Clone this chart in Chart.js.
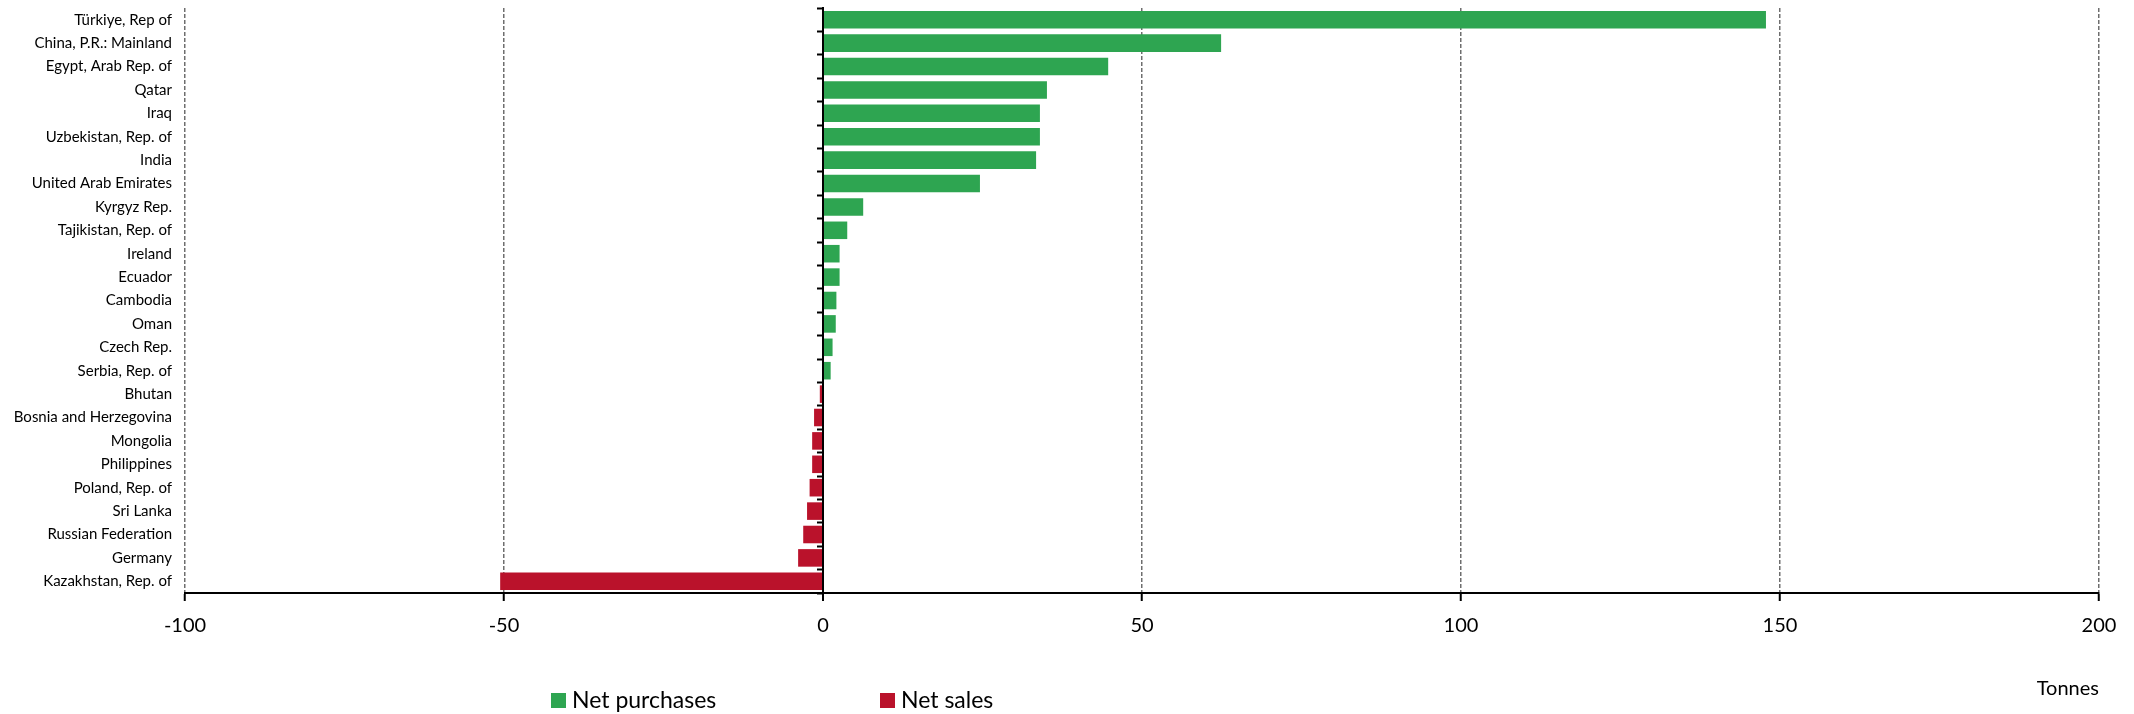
<!DOCTYPE html>
<html>
<head>
<meta charset="utf-8">
<script src="https://cdn.jsdelivr.net/npm/chart.js@4.4.0/dist/chart.umd.min.js"></script>
<style>
body { margin: 0; background: #fff; }
#box { width: 2134px; height: 714px; }
</style>
</head>
<body>
<div id="box"><canvas id="graficoOuro"></canvas></div>
<script>
var paises = ["Türkiye, Rep of", "China, P.R.: Mainland", "Egypt, Arab Rep. of", "Qatar", "Iraq",
    "Uzbekistan, Rep. of", "India", "United Arab Emirates", "Kyrgyz Rep.", "Tajikistan, Rep. of",
    "Ireland", "Ecuador", "Cambodia", "Oman", "Czech Rep.", "Serbia, Rep. of", "Bhutan",
    "Bosnia and Herzegovina", "Mongolia", "Philippines", "Poland, Rep. of", "Sri Lanka",
    "Russian Federation", "Germany", "Kazakhstan, Rep. of"];
var compras = [147.8, 62.4, 44.7, 35.1, 34.0, 34.0, 33.4, 24.6, 6.3, 3.8, 2.6, 2.6, 2.1, 2.0, 1.5, 1.2,
    null, null, null, null, null, null, null, null, null];
var vendas = [null, null, null, null, null, null, null, null, null, null, null, null, null, null, null, null,
    -0.5, -1.4, -1.7, -1.7, -2.1, -2.5, -3.1, -3.9, -50.6];
var ticksX = [-100, -50, 0, 50, 100, 150, 200];
var cores = ["#2ea551", "#ba122b"];

document.addEventListener("DOMContentLoaded", function() {
    Chart.defaults.font.family = "Lato";
    Chart.defaults.color = "#000";

    // legend drawn by hand so the two items sit where the original has them
    var legenda = {
        id: "legenda",
        afterDraw: function(chart) {
            var ctx = chart.ctx;
            var xs = [551, 880];
            ctx.save();
            ctx.font = "23px Lato";
            ctx.textBaseline = "middle";
            chart.data.datasets.forEach(function(ds, i) {
                ctx.fillStyle = ds.backgroundColor;
                ctx.fillRect(xs[i], 693, 15, 15);
                ctx.fillStyle = "#000";
                ctx.fillText(ds.label, xs[i] + 21, 701);
            });
            ctx.restore();
        }
    };

    var ctx = document.getElementById("graficoOuro").getContext("2d");
    var grafico = new Chart(ctx, {
        type: "bar",
        data: {
            labels: paises,
            datasets: [{
                label: "Net purchases",
                data: compras,
                backgroundColor: cores[0],
                barPercentage: 0.75,
                categoryPercentage: 1
            }, {
                label: "Net sales",
                data: vendas,
                backgroundColor: cores[1],
                barPercentage: 0.75,
                categoryPercentage: 1
            }]
        },
        options: {
            indexAxis: "y",
            responsive: true,
            maintainAspectRatio: false,
            animation: false,
            devicePixelRatio: 1,
            layout: { padding: { top: 8, right: 35, bottom: 13, left: 0 } },
            plugins: {
                legend: { display: false },
                tooltip: { enabled: false }
            },
            scales: {
                x: {
                    stacked: true,
                    min: ticksX[0],
                    max: ticksX[ticksX.length - 1],
                    ticks: { stepSize: ticksX[1] - ticksX[0], font: { size: 20 }, padding: 13 },
                    grid: {
                        color: function(c) { return c.tick && c.tick.value === 0 ? "#000" : "#6e6e6e"; },
                        lineWidth: function(c) { return c.tick && c.tick.value === 0 ? 2 : 1.5; },
                        tickColor: "#000",
                        tickLength: 8,
                        tickWidth: 2
                    },
                    border: {
                        color: "#000",
                        width: 2,
                        dash: function(c) { return c.tick && c.tick.value !== 0 ? [4, 2] : []; }
                    },
                    title: {
                        display: true,
                        text: "Tonnes",
                        align: "end",
                        font: { size: 20 },
                        padding: { top: 26, bottom: 0 }
                    }
                },
                y: {
                    stacked: true,
                    afterFit: function(s) {
                        s.width = 185;
                        s.paddingTop = 0;
                        s.paddingBottom = 0;
                    },
                    ticks: { font: { size: 15 }, padding: 13 },
                    grid: { display: false, drawTicks: false },
                    border: { display: false }
                },
                y2: {
                    axis: "y",
                    type: "category",
                    position: { x: 0 },
                    offset: true,
                    z: 1,
                    ticks: { display: false },
                    grid: { offset: true, drawOnChartArea: false, tickLength: 5, tickWidth: 2, tickColor: "#000" },
                    border: { display: true, color: "#000", width: 2 }
                }
            }
        },
        plugins: [legenda]
    });
});
</script>
</body>
</html>
